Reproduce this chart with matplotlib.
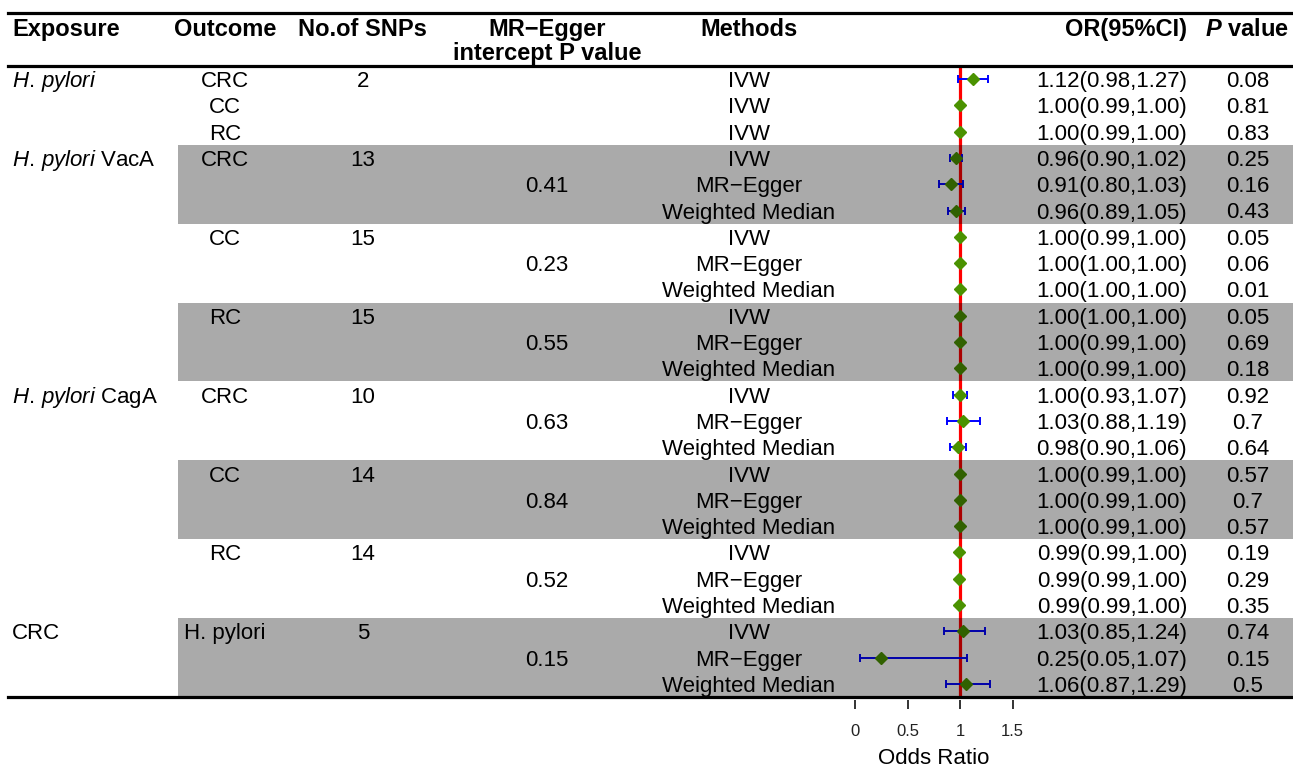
import matplotlib
matplotlib.use('Agg')
import matplotlib.pyplot as plt
from matplotlib.transforms import blended_transform_factory

plt.rcParams['font.family'] = ['Liberation Sans', 'DejaVu Sans']
plt.rcParams['mathtext.fontset'] = 'custom'
plt.rcParams['mathtext.rm'] = 'Liberation Sans'
plt.rcParams['mathtext.it'] = 'Liberation Sans:italic'
plt.rcParams['mathtext.bf'] = 'Liberation Sans:bold'
plt.rcParams['mathtext.bfit'] = 'Liberation Sans:italic:bold'

# ---------------- data ----------------
exposure = [r"$\it{H.\,pylori}$", "", "",
            r"$\it{H.\,pylori}$ VacA", "", "", "", "", "", "", "", "",
            r"$\it{H.\,pylori}$ CagA", "", "", "", "", "", "", "", "",
            "CRC", "", ""]
outcome = ["CRC", "CC", "RC",
           "CRC", "", "", "CC", "", "", "RC", "", "",
           "CRC", "", "", "CC", "", "", "RC", "", "",
           "H. pylori", "", ""]
n_snps = ["2", "", "",
          "13", "", "", "15", "", "", "15", "", "",
          "10", "", "", "14", "", "", "14", "", "",
          "5", "", ""]
egger_p = ["", "", "",
           "", "0.41", "", "", "0.23", "", "", "0.55", "",
           "", "0.63", "", "", "0.84", "", "", "0.52", "",
           "", "0.15", ""]
methods = ["IVW", "IVW", "IVW"] + ["IVW", "MR\u2212Egger", "Weighted Median"] * 7
odds = [1.12, 1.00, 1.00,
        0.96, 0.91, 0.96, 1.00, 1.00, 1.00, 1.00, 1.00, 1.00,
        1.00, 1.03, 0.98, 1.00, 1.00, 1.00, 0.99, 0.99, 0.99,
        1.03, 0.25, 1.06]
lower = [0.98, 0.99, 0.99,
         0.90, 0.80, 0.89, 0.99, 1.00, 1.00, 1.00, 0.99, 0.99,
         0.93, 0.88, 0.90, 0.99, 0.99, 0.99, 0.99, 0.99, 0.99,
         0.85, 0.05, 0.87]
upper = [1.27, 1.00, 1.00,
         1.02, 1.03, 1.05, 1.00, 1.00, 1.00, 1.00, 1.00, 1.00,
         1.07, 1.19, 1.06, 1.00, 1.00, 1.00, 1.00, 1.00, 1.00,
         1.24, 1.07, 1.29]
p_values = ["0.08", "0.81", "0.83",
            "0.25", "0.16", "0.43", "0.05", "0.06", "0.01", "0.05", "0.69", "0.18",
            "0.92", "0.7", "0.64", "0.57", "0.7", "0.57", "0.19", "0.29", "0.35",
            "0.74", "0.15", "0.5"]
shaded_groups = [3, 9, 15, 21]
x_ticks = [0, 0.5, 1, 1.5]
x_tick_labels = ["0", "0.5", "1", "1.5"]

# ---------------- layout ----------------
W, H = 1293, 768
fig = plt.figure(figsize=(W / 100, H / 100), dpi=100)
ax = fig.add_axes([0, 0, 1, 1])
X0, XS = 855, 105      # pixel of OR = 0, pixels per OR unit
Y0, YS = 79, 26.3      # pixel of first row, pixels per row
ax.set_xlim(-X0 / XS, (W - X0) / XS)
ax.set_ylim((H - Y0) / YS, -Y0 / YS)
ax.axis('off')


def ry(px):
    return (px - Y0) / YS


def fx(px):
    return px / W


tr = blended_transform_factory(ax.transAxes, ax.transData)
rows = list(range(len(odds)))
FS = 16
HFS = 17
BL = 8 / YS   # baseline offset below row centre

# header
hkw = dict(transform=tr, va='baseline', fontsize=HFS, fontweight='bold')
ax.text(fx(12), ry(36), "Exposure", ha='left', **hkw)
ax.text(fx(225), ry(36), "Outcome", ha='center', **hkw)
ax.text(fx(362), ry(36), "No.of SNPs", ha='center', **hkw)
ax.text(fx(547), ry(36), "MR\u2212Egger", ha='center', **hkw)
ax.text(fx(547), ry(60), "intercept P value", ha='center', **hkw)
ax.text(fx(749), ry(36), "Methods", ha='center', **hkw)
ax.text(fx(1187), ry(36), "OR(95%CI)", ha='right', **hkw)
ax.text(fx(1247), ry(36), r"$\mathbfit{P}$ value", ha='center', **hkw)

# body text
for i in rows:
    kw = dict(transform=tr, va='baseline', fontsize=FS, zorder=4)
    y = i + BL
    if exposure[i]:
        ax.text(fx(12), y, exposure[i], ha='left', **kw)
    if outcome[i]:
        ax.text(fx(225), y, outcome[i], ha='center', **kw)
    if n_snps[i]:
        ax.text(fx(363), y, n_snps[i], ha='center', **kw)
    if egger_p[i]:
        ax.text(fx(547), y, egger_p[i], ha='center', **kw)
    ax.text(fx(749), y, methods[i], ha='center', **kw)
    ax.text(fx(1187), y, f"{odds[i]:.2f}({lower[i]:.2f},{upper[i]:.2f})", ha='right', **kw)
    ax.text(fx(1248), y, p_values[i], ha='center', **kw)

# shaded bands (semi-transparent, over marks)
for s in shaded_groups:
    ax.axhspan(s - 0.5, s + 2.5, xmin=fx(178), xmax=1, facecolor='black', alpha=1 / 3, lw=0, zorder=3)

# reference line
ax.vlines(1, -0.5, 23.5, color='#ff0000', lw=2.3, zorder=1)

# CIs and points
xerr = [[o - l for o, l in zip(odds, lower)], [u - o for o, u in zip(odds, upper)]]
ax.errorbar(odds, rows, xerr=xerr, fmt='none', ecolor='#0000ff', elinewidth=1.4,
            capsize=3, capthick=1.4, zorder=2)
ax.plot(odds, rows, 'D', color='#4a9200', ms=6.2, ls='none', zorder=2.5)

# rules
for ypx in (13, 66, 697):
    ax.axhline(ry(ypx), xmin=fx(8), xmax=fx(1291), color='black', lw=2.3, zorder=5)

# x axis (odds ratio)
ax.vlines(x_ticks, ry(700), ry(709), color='#333333', lw=1.4)
for t, lab in zip(x_ticks, x_tick_labels):
    ax.text(t, ry(736), lab, ha='center', va='baseline', fontsize=12, color='#222222')
ax.text(0.75, ry(764), "Odds Ratio", ha='center', va='baseline', fontsize=16)

fig.savefig('out.png', dpi=100)
